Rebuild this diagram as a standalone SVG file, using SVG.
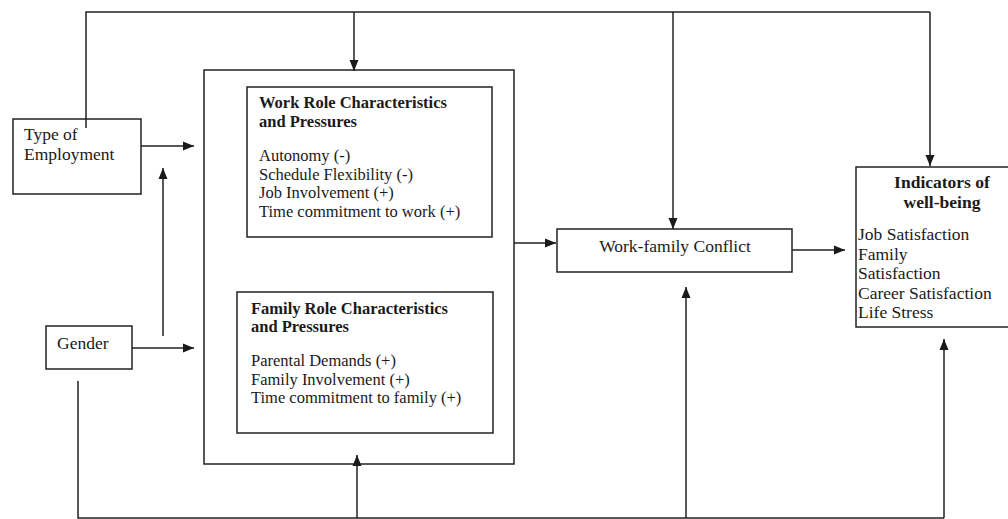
<svg xmlns="http://www.w3.org/2000/svg" width="1008" height="519" viewBox="0 0 1008 519">
  <style>
    .box { fill: #fff; stroke: #222; stroke-width: 1.5; }
    .line { fill: none; stroke: #222; stroke-width: 1.5; }
    .arrow { fill: none; stroke: #222; stroke-width: 1.5; marker-end: url(#head); }
    text { font-size: 17.5px; fill: #1a1a1a; }
    .b { font-weight: bold; }
    .s { font-size: 16.5px; }
    .big { font-size: 17.5px; }
  </style>
  <defs>
    <marker id="head" markerUnits="userSpaceOnUse" markerWidth="12" markerHeight="10" refX="11" refY="5" orient="auto">
      <path d="M0,0.5 L11,5 L0,9.5 Z" fill="#1a1a1a"/>
    </marker>
  </defs>

  <rect width="1008" height="519" fill="#fff"/>

  <g font-family="'Liberation Serif', 'DejaVu Serif', serif">
    <g id="type-of-employment">
      <rect class="box" x="13" y="119" width="128" height="75"/>
      <text x="24" y="140">Type of</text>
      <text x="24" y="160">Employment</text>
    </g>

    <g id="gender">
      <rect class="box" x="46" y="326" width="86" height="43"/>
      <text x="57" y="349">Gender</text>
    </g>

    <g id="role-characteristics">
      <rect class="box" x="204" y="70" width="310" height="394"/>
    </g>

    <g id="work-role">
      <rect class="box" x="247" y="87" width="245" height="150"/>
      <text class="b s" x="259" y="108">Work Role Characteristics</text>
      <text class="b s" x="259" y="126.5">and Pressures</text>
      <text class="s" x="259" y="161">Autonomy (-)</text>
      <text class="s" x="259" y="179.5">Schedule Flexibility (-)</text>
      <text class="s" x="259" y="198">Job Involvement (+)</text>
      <text class="s" x="259" y="216.5">Time commitment to work (+)</text>
    </g>

    <g id="family-role">
      <rect class="box" x="237" y="292" width="256" height="141"/>
      <text class="b s" x="251" y="313.5">Family Role Characteristics</text>
      <text class="b s" x="251" y="332">and Pressures</text>
      <text class="s" x="251" y="366">Parental Demands (+)</text>
      <text class="s" x="251" y="384.5">Family Involvement (+)</text>
      <text class="s" x="251" y="403">Time commitment to family (+)</text>
    </g>

    <g id="work-family-conflict">
      <rect class="box" x="557" y="229" width="235" height="43"/>
      <text x="675" y="252" text-anchor="middle">Work-family Conflict</text>
    </g>

    <g id="well-being">
      <rect class="box" x="856" y="167" width="160" height="160"/>
      <text class="b big" x="942" y="188" text-anchor="middle">Indicators of</text>
      <text class="b big" x="942" y="207.5" text-anchor="middle">well-being</text>
      <text class="big" x="858" y="240">Job Satisfaction</text>
      <text class="big" x="858" y="259.5">Family</text>
      <text class="big" x="858" y="279">Satisfaction</text>
      <text class="big" x="858" y="298.5">Career Satisfaction</text>
      <text class="big" x="858" y="318">Life Stress</text>
    </g>
  </g>

  <!-- connectors, drawn over the boxes so arrowheads sit on the edges -->
  <g id="connectors">
    <!-- top bus from Type of Employment -->
    <polyline class="line" points="86,128 86,12 930,12"/>
    <line class="arrow" x1="354" y1="12" x2="354" y2="71"/>
    <line class="arrow" x1="673" y1="12" x2="673" y2="229"/>
    <line class="arrow" x1="930" y1="12" x2="930" y2="166"/>
    <!-- direct arrows -->
    <line class="arrow" x1="141" y1="146" x2="194" y2="146"/>
    <line class="arrow" x1="163" y1="336" x2="163" y2="168"/>
    <line class="arrow" x1="132" y1="348" x2="194" y2="348"/>
    <line class="arrow" x1="514" y1="243" x2="556" y2="243"/>
    <line class="arrow" x1="792" y1="250" x2="845" y2="250"/>
    <!-- bottom bus from Gender -->
    <polyline class="line" points="78,381 78,518 944,518"/>
    <line class="arrow" x1="357" y1="518" x2="357" y2="455"/>
    <line class="arrow" x1="686" y1="518" x2="686" y2="287"/>
    <line class="arrow" x1="944" y1="518" x2="944" y2="339"/>
  </g>
</svg>
